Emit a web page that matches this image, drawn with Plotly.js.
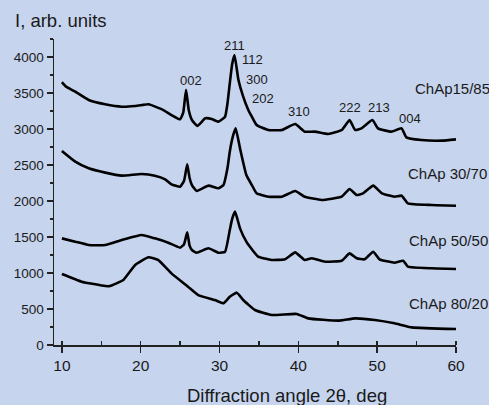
<!DOCTYPE html>
<html>
<head>
<meta charset="utf-8">
<script src="https://cdn.plot.ly/plotly-3.0.1.min.js"></script>
<style>html,body{margin:0;padding:0;background:#c6d4ee;}</style>
</head>
<body>
<div id="chart" style="width:489px;height:405px;"></div>
<script>
// ChAp15/85
var x1 = [10, 10.5, 11.7, 13.4, 15.5, 17.6, 19.3, 20.3, 21, 22.7, 23.9, 25.0, 25.4, 25.75, 26.1, 26.5, 27.2, 28.2, 29.0, 29.85, 30.7, 31.0, 31.3, 31.6, 31.9, 32.4, 33.0, 33.65, 34.1, 34.7, 36.2, 37.9, 39.6, 40.8, 42.1, 43.8, 45.5, 46.5, 47.2, 48.0, 49.4, 50.1, 51.8, 53.1, 53.7, 55.6, 58.2, 60];
var y1 = [3650, 3590, 3518, 3403, 3343, 3310, 3320, 3335, 3343, 3273, 3194, 3134, 3230, 3545, 3260, 3125, 3042, 3148, 3140, 3102, 3171, 3350, 3634, 3900, 4028, 3680, 3449, 3264, 3171, 3056, 2986, 2986, 3069, 2963, 2963, 2930, 2986, 3125, 2986, 3009, 3125, 3009, 2963, 3009, 2884, 2847, 2838, 2856];
// ChAp 30/70
var x2 = [10, 11.7, 13.4, 15.5, 17.6, 20.1, 21.8, 23.1, 23.9, 25.0, 25.5, 25.9, 26.2, 26.5, 27.1, 28.6, 29.85, 30.5, 31.0, 31.3, 31.7, 32.05, 32.6, 33.4, 34.1, 34.7, 36.2, 37.9, 39.6, 40.8, 42.95, 45.5, 46.5, 47.4, 48.2, 49.5, 50.6, 52.2, 53.1, 53.9, 56.9, 60];
var y2 = [2694, 2546, 2454, 2394, 2352, 2375, 2352, 2301, 2232, 2199, 2280, 2509, 2320, 2222, 2139, 2213, 2176, 2222, 2450, 2685, 2900, 3009, 2731, 2361, 2222, 2107, 2060, 2060, 2139, 2060, 2014, 2060, 2167, 2083, 2107, 2213, 2107, 2060, 2074, 1968, 1944, 1935];
// ChAp 50/50
var x3 = [10, 11.7, 13.4, 15.5, 17.6, 20.1, 21.8, 23.5, 25.0, 25.5, 25.9, 26.2, 26.5, 27.1, 28.6, 29.85, 30.7, 31.3, 31.6, 31.97, 32.6, 33.4, 34.1, 34.9, 36.6, 38.3, 39.6, 40.8, 41.7, 43.4, 45.5, 46.5, 47.4, 48.4, 49.5, 50.3, 52.2, 53.3, 53.9, 56.9, 60];
var y3 = [1481, 1435, 1389, 1389, 1458, 1528, 1481, 1421, 1352, 1400, 1565, 1380, 1319, 1282, 1343, 1282, 1296, 1597, 1750, 1852, 1620, 1435, 1329, 1227, 1181, 1190, 1287, 1181, 1204, 1157, 1171, 1273, 1204, 1190, 1296, 1190, 1143, 1171, 1088, 1065, 1056];
// ChAp 80/20
var x4 = [10, 12.5, 15.5, 16.1, 17.8, 19.3, 21.0, 22.2, 23.9, 26.0, 27.3, 29.4, 30.5, 31.3, 32.2, 33.0, 34.5, 36.6, 39.8, 41.25, 45.1, 47.2, 49.7, 52.2, 54.4, 60];
var y4 = [986, 880, 819, 819, 903, 1111, 1218, 1181, 995, 810, 694, 625, 579, 671, 727, 625, 486, 417, 431, 370, 338, 370, 347, 301, 245, 222];

var seriesNames = ["ChAp15/85", "ChAp 30/70", "ChAp 50/50", "ChAp 80/20"];
var peakLabels = ["002", "211", "112", "300", "202", "310", "222", "213", "004"];

var W = 489, H = 405, M = {l: 54, r: 33, t: 39, b: 60};
function pxX(px) { return (px - M.l) / (W - M.l - M.r); }
function pxY(py) { return (H - M.b - py) / (H - M.t - M.b); }

var lineStyle = {color: '#000', width: 2.6, shape: 'spline', smoothing: 0.4};
var data = [[x1, y1], [x2, y2], [x3, y3], [x4, y4]].map(function (s, i) {
  return {x: s[0], y: s[1], type: 'scatter', mode: 'lines', line: lineStyle, name: seriesNames[i]};
});

var txt = '#1a1a1a';
var fontF = '"Liberation Sans", Arial, sans-serif';
function ann(text, px, py, size, anchor) {
  return {text: text, xref: 'paper', yref: 'paper', x: pxX(px), y: pxY(py),
    xanchor: anchor || 'center', yanchor: 'middle', showarrow: false,
    font: {family: fontF, size: size, color: txt}};
}
var peakPos = [[190.8, 80.5], [234.8, 45], [252.5, 59], [256.5, 79], [262.5, 98.3], [298.8, 111], [349.8, 107], [378.8, 107], [409.7, 118.3]];
var seriesPos = [[413.3, 88.7], [405.7, 173], [406.7, 240.5], [406.7, 303]];

var annotations = [];
peakLabels.forEach(function (t, i) { annotations.push(ann(t, peakPos[i][0], peakPos[i][1], 13)); });
seriesNames.forEach(function (t, i) { annotations.push(ann(t, seriesPos[i][0], seriesPos[i][1], 15, 'left')); });
annotations.push(ann('I, arb. units', 12.7, 20.7, 18.5, 'left'));
annotations.push(ann('Diffraction angle 2θ, deg', 286.5, 395, 18.5));

var layout = {
  width: W, height: H,
  margin: M,
  paper_bgcolor: '#c6d4ee', plot_bgcolor: '#c6d4ee',
  showlegend: false,
  font: {family: fontF, color: txt},
  xaxis: {
    range: [9, 60], showgrid: false, zeroline: false,
    showline: true, linecolor: '#222', linewidth: 1.5,
    tick0: 10, dtick: 10, ticks: 'outside', ticklen: 6, tickwidth: 1.5, tickcolor: '#222',
    tickfont: {size: 15.5, family: fontF, color: txt},
    minor: {tick0: 10, dtick: 5, ticks: 'inside', ticklen: 4, tickwidth: 1.5, tickcolor: '#222'}
  },
  yaxis: {
    range: [0, 4250], showgrid: false, zeroline: false,
    showline: true, linecolor: '#222', linewidth: 1.5,
    tick0: 0, dtick: 500, ticks: 'outside', ticklen: 6, tickwidth: 1.5, tickcolor: '#222',
    tickfont: {size: 13.5, family: fontF, color: txt},
    minor: {dtick: 250, ticks: 'outside', ticklen: 3, tickwidth: 1.5, tickcolor: '#222'}
  },
  annotations: annotations
};
Plotly.newPlot('chart', data, layout, {displayModeBar: false, staticPlot: true});
</script>
</body>
</html>
